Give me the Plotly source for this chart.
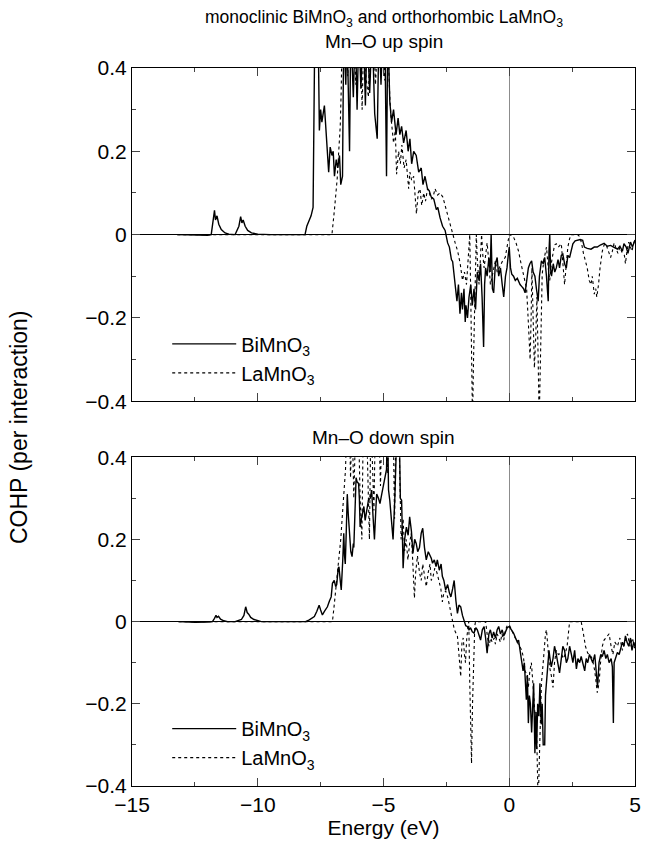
import plotly.graph_objects as go

# ---------------- data ----------------
up_bi_e = [-13.2,-12.5,-12.0,-11.85,-11.78,-11.72,-11.68,-11.62,-11.55,-11.45,-11.3,-11.15,-10.9,-10.75,-10.68,-10.63,-10.58,-10.5,-10.4,-10.25,-10.0,-9.5,-8.5,-8.12,-8.05,-7.98,-7.88,-7.8,-7.76,-7.73,-7.6,-7.55,-7.5,-7.45,-7.35,-7.3,-7.25,-7.18,-7.12,-7.05,-7.0,-6.95,-6.88,-6.82,-6.75,-6.7,-6.63,-6.58,-6.5,-6.45,-6.35,-6.3,-6.2,-6.12,-6.05,-5.98,-5.9,-5.8,-5.72,-5.65,-5.55,-5.45,-5.35,-5.25,-5.18,-5.1,-5.02,-4.95,-4.88,-4.83,-4.75,-4.68,-4.6,-4.5,-4.42,-4.35,-4.28,-4.2,-4.1,-4.02,-3.95,-3.88,-3.8,-3.7,-3.6,-3.5,-3.43,-3.35,-3.25,-3.18,-3.1,-3.0,-2.9,-2.84,-2.75,-2.65,-2.55,-2.45,-2.38,-2.3,-2.25,-2.18,-2.12,-2.08,-2.02,-1.96,-1.9,-1.86,-1.8,-1.75,-1.72,-1.66,-1.6,-1.53,-1.47,-1.4,-1.34,-1.27,-1.2,-1.14,-1.08,-1.02,-0.98,-0.94,-0.88,-0.81,-0.76,-0.72,-0.67,-0.62,-0.55,-0.48,-0.42,-0.35,-0.28,-0.22,-0.15,-0.09,-0.04,0.0,0.05,0.1,0.17,0.24,0.32,0.43,0.5,0.57,0.63,0.7,0.76,0.82,0.89,0.95,1.02,1.08,1.15,1.2,1.28,1.35,1.41,1.48,1.55,1.58,1.61,1.64,1.68,1.75,1.81,1.87,1.94,2.0,2.07,2.13,2.2,2.27,2.33,2.4,2.47,2.53,2.62,2.72,2.82,2.92,2.99,3.1,3.25,3.38,3.5,3.62,3.77,3.9,4.03,4.15,4.3,4.4,4.5,4.56,4.65,4.72,4.82,4.9,5.0]
up_bi_v = [0,-0.002,-0.002,0,0.03,0.058,0.035,0.045,0.025,0.012,0.004,0.001,0,0.02,0.043,0.028,0.035,0.02,0.01,0.004,0.001,0,0,0,0.02,0.03,0.045,0.065,0.2,0.5,0.5,0.25,0.3,0.27,0.31,0.26,0.22,0.15,0.21,0.19,0.2,0.14,0.18,0.16,0.19,0.12,0.14,0.5,0.36,0.5,0.2,0.5,0.33,0.5,0.3,0.5,0.35,0.5,0.31,0.5,0.34,0.5,0.29,0.23,0.5,0.36,0.5,0.5,0.14,0.5,0.32,0.27,0.3,0.24,0.28,0.24,0.26,0.22,0.25,0.2,0.23,0.17,0.2,0.19,0.15,0.16,0.12,0.14,0.11,0.105,0.09,0.085,0.06,0.065,0.04,0.02,0.01,-0.02,-0.03,-0.06,-0.065,-0.1,-0.13,-0.16,-0.12,-0.19,-0.14,-0.18,-0.13,-0.21,-0.17,-0.2,-0.15,-0.12,-0.17,-0.13,-0.18,-0.09,-0.11,-0.07,-0.15,-0.27,-0.12,-0.08,-0.1,-0.055,-0.09,0.0,-0.13,-0.14,-0.07,-0.055,-0.1,-0.08,-0.12,-0.15,-0.1,-0.08,-0.05,-0.03,-0.08,-0.095,-0.1,-0.11,-0.105,-0.12,-0.125,-0.13,-0.14,-0.1,-0.08,-0.07,-0.063,-0.09,-0.1,-0.13,-0.16,-0.1,-0.063,-0.07,-0.055,-0.1,-0.16,-0.04,0.0,-0.08,-0.1,-0.07,-0.09,-0.08,-0.06,-0.08,-0.05,-0.047,-0.07,-0.08,-0.05,-0.055,-0.035,-0.022,-0.015,-0.013,-0.012,-0.014,-0.03,-0.033,-0.035,-0.03,-0.03,-0.025,-0.021,-0.028,-0.026,-0.03,-0.035,-0.028,-0.04,-0.022,-0.03,-0.045,-0.018,-0.03,-0.013]

up_la_e = [-13.2,-7.05,-6.95,-6.84,-6.78,-6.72,-6.68,-6.64,-6.5,-6.42,-6.35,-6.2,-6.1,-6.0,-5.92,-5.85,-5.78,-5.7,-5.6,-5.52,-5.4,-5.32,-5.2,-5.05,-4.95,-4.85,-4.75,-4.7,-4.6,-4.53,-4.48,-4.4,-4.33,-4.27,-4.18,-4.1,-4.0,-3.95,-3.88,-3.8,-3.74,-3.69,-3.62,-3.55,-3.48,-3.4,-3.33,-3.25,-3.18,-3.1,-3.03,-2.95,-2.85,-2.75,-2.64,-2.55,-2.5,-2.4,-2.3,-2.25,-2.15,-2.05,-1.95,-1.86,-1.78,-1.7,-1.66,-1.6,-1.57,-1.53,-1.49,-1.46,-1.42,-1.38,-1.34,-1.31,-1.27,-1.2,-1.15,-1.1,-1.05,-1.0,-0.94,-0.88,-0.82,-0.75,-0.68,-0.6,-0.55,-0.48,-0.4,-0.32,-0.24,-0.16,-0.08,0.0,0.08,0.17,0.27,0.37,0.47,0.56,0.63,0.69,0.75,0.8,0.83,0.87,0.9,0.95,1.0,1.05,1.1,1.15,1.19,1.24,1.31,1.38,1.45,1.48,1.55,1.61,1.67,1.74,1.8,1.87,1.95,2.07,2.13,2.2,2.27,2.33,2.4,2.46,2.6,2.72,2.8,2.88,2.95,3.0,3.1,3.18,3.25,3.3,3.38,3.44,3.48,3.55,3.61,3.7,3.77,3.84,3.92,4.03,4.1,4.17,4.23,4.32,4.4,4.5,4.58,4.62,4.68,4.75,4.82,4.88,4.95,5.0]
up_la_v = [0,0,0.06,0.135,0.2,0.26,0.35,0.5,0.5,0.38,0.5,0.5,0.36,0.5,0.5,0.3,0.5,0.38,0.33,0.5,0.5,0.36,0.5,0.5,0.37,0.5,0.33,0.28,0.22,0.25,0.145,0.2,0.17,0.215,0.16,0.18,0.11,0.15,0.13,0.14,0.09,0.05,0.1,0.11,0.07,0.1,0.08,0.11,0.1,0.085,0.09,0.11,0.095,0.1,0.09,0.07,0.058,0.03,0.01,0.0,-0.02,-0.04,-0.07,-0.11,-0.09,-0.12,-0.08,-0.03,0.0,-0.15,-0.3,-0.45,-0.3,-0.2,-0.06,0.0,-0.06,-0.12,-0.06,0.0,-0.05,-0.08,-0.05,-0.02,-0.06,-0.12,-0.1,-0.08,-0.063,-0.09,-0.08,-0.07,-0.06,-0.055,-0.03,0.0,-0.002,-0.006,-0.02,-0.04,-0.07,-0.095,-0.11,-0.13,-0.2,-0.28,-0.3,-0.2,-0.08,-0.2,-0.32,-0.25,-0.15,-0.3,-0.45,-0.3,-0.095,-0.06,-0.03,-0.03,-0.08,-0.11,-0.07,-0.04,-0.025,-0.022,-0.03,-0.022,-0.06,-0.12,-0.07,-0.03,-0.01,0.0,0.0,0.0,-0.005,-0.022,-0.045,-0.055,-0.08,-0.11,-0.12,-0.1,-0.143,-0.13,-0.15,-0.12,-0.08,-0.04,-0.025,-0.022,-0.035,-0.055,-0.04,-0.02,-0.03,-0.045,-0.03,-0.045,-0.05,-0.07,-0.04,-0.018,-0.03,-0.04,-0.02,-0.013]

dn_bi_e = [-13.15,-12.5,-12.0,-11.8,-11.72,-11.66,-11.62,-11.56,-11.48,-11.35,-11.2,-10.9,-10.65,-10.55,-10.48,-10.42,-10.36,-10.28,-10.15,-9.95,-9.86,-8.5,-8.1,-7.95,-7.85,-7.75,-7.65,-7.56,-7.5,-7.43,-7.35,-7.23,-7.15,-7.08,-7.03,-6.96,-6.9,-6.86,-6.8,-6.77,-6.72,-6.68,-6.62,-6.58,-6.55,-6.52,-6.48,-6.44,-6.4,-6.35,-6.3,-6.25,-6.2,-6.18,-6.13,-6.09,-6.05,-5.99,-5.96,-5.93,-5.88,-5.82,-5.78,-5.73,-5.66,-5.6,-5.53,-5.47,-5.42,-5.36,-5.3,-5.27,-5.2,-5.14,-5.07,-5.01,-4.95,-4.88,-4.84,-4.8,-4.75,-4.68,-4.62,-4.55,-4.49,-4.45,-4.38,-4.33,-4.28,-4.22,-4.16,-4.09,-4.02,-3.96,-3.89,-3.83,-3.76,-3.7,-3.64,-3.57,-3.5,-3.44,-3.37,-3.3,-3.22,-3.15,-3.1,-3.05,-2.98,-2.91,-2.86,-2.78,-2.71,-2.66,-2.6,-2.53,-2.45,-2.38,-2.32,-2.25,-2.19,-2.12,-2.06,-2.0,-1.93,-1.86,-1.8,-1.73,-1.67,-1.6,-1.54,-1.47,-1.4,-1.33,-1.27,-1.2,-1.14,-1.07,-1.0,-0.94,-0.88,-0.81,-0.75,-0.68,-0.62,-0.55,-0.48,-0.42,-0.35,-0.28,-0.22,-0.15,-0.08,0.0,0.08,0.17,0.25,0.32,0.37,0.43,0.5,0.55,0.6,0.63,0.68,0.72,0.76,0.8,0.84,0.89,0.93,0.97,1.02,1.06,1.09,1.13,1.18,1.22,1.27,1.31,1.35,1.41,1.44,1.48,1.53,1.58,1.61,1.67,1.74,1.8,1.87,1.94,2.0,2.07,2.13,2.2,2.27,2.33,2.4,2.47,2.53,2.6,2.67,2.73,2.8,2.86,2.93,3.0,3.06,3.12,3.19,3.25,3.32,3.4,3.45,3.51,3.57,3.64,3.7,3.77,3.84,3.9,3.97,4.05,4.1,4.14,4.17,4.23,4.3,4.37,4.43,4.5,4.56,4.62,4.68,4.75,4.82,4.88,4.95,5.0]
dn_bi_v = [0,-0.002,-0.001,0,0.008,0.015,0.01,0.013,0.006,0.002,0,0,0.005,0.015,0.036,0.022,0.018,0.01,0.005,0.001,0,0,0,0.004,0.008,0.012,0.025,0.04,0.028,0.016,0.025,0.036,0.05,0.06,0.093,0.1,0.085,0.09,0.13,0.133,0.1,0.077,0.15,0.215,0.16,0.14,0.22,0.31,0.26,0.22,0.17,0.158,0.19,0.18,0.28,0.35,0.34,0.336,0.3,0.23,0.25,0.27,0.28,0.246,0.27,0.295,0.3,0.32,0.26,0.2,0.28,0.31,0.3,0.287,0.31,0.33,0.35,0.37,0.5,0.32,0.295,0.25,0.2,0.3,0.39,0.5,0.5,0.3,0.295,0.13,0.2,0.23,0.21,0.255,0.22,0.166,0.2,0.19,0.17,0.18,0.215,0.227,0.18,0.15,0.17,0.16,0.154,0.142,0.15,0.134,0.15,0.125,0.14,0.11,0.1,0.077,0.09,0.07,0.06,0.08,0.1,0.05,0.02,0.04,0.036,0.015,0.0,-0.01,-0.012,-0.02,-0.015,-0.025,-0.028,-0.015,-0.02,-0.035,-0.045,-0.02,-0.012,-0.04,-0.077,-0.03,-0.02,-0.04,-0.025,-0.04,-0.02,-0.012,-0.03,-0.02,-0.035,-0.025,-0.015,-0.012,-0.02,-0.028,-0.04,-0.05,-0.045,-0.07,-0.093,-0.12,-0.1,-0.15,-0.19,-0.13,-0.247,-0.18,-0.2,-0.27,-0.2,-0.15,-0.32,-0.22,-0.31,-0.2,-0.23,-0.15,-0.25,-0.2,-0.3,-0.3,-0.18,-0.15,-0.1,-0.07,-0.085,-0.11,-0.09,-0.06,-0.08,-0.1,-0.125,-0.09,-0.06,-0.07,-0.1,-0.09,-0.06,-0.08,-0.1,-0.07,-0.115,-0.09,-0.1,-0.085,-0.1,-0.12,-0.09,-0.1,-0.08,-0.09,-0.1,-0.08,-0.12,-0.16,-0.1,-0.08,-0.085,-0.07,-0.09,-0.08,-0.1,-0.09,-0.11,-0.247,-0.1,-0.09,-0.075,-0.08,-0.068,-0.05,-0.06,-0.035,-0.05,-0.06,-0.04,-0.07,-0.05,-0.06]

dn_la_e = [-13.15,-7.03,-6.96,-6.9,-6.83,-6.77,-6.7,-6.64,-6.58,-6.51,-6.45,-6.36,-6.31,-6.25,-6.18,-6.1,-6.0,-5.93,-5.86,-5.8,-5.68,-5.6,-5.56,-5.5,-5.42,-5.38,-5.32,-5.2,-5.12,-5.06,-4.95,-4.85,-4.78,-4.62,-4.56,-4.5,-4.4,-4.3,-4.22,-4.16,-4.1,-4.03,-3.96,-3.9,-3.84,-3.77,-3.72,-3.65,-3.57,-3.5,-3.44,-3.37,-3.3,-3.22,-3.15,-3.1,-3.03,-2.96,-2.88,-2.8,-2.72,-2.66,-2.6,-2.53,-2.45,-2.38,-2.3,-2.25,-2.18,-2.1,-2.06,-2.0,-1.96,-1.93,-1.88,-1.83,-1.78,-1.74,-1.69,-1.64,-1.61,-1.57,-1.53,-1.5,-1.46,-1.41,-1.37,-1.34,-1.25,-1.15,-1.05,-0.94,-0.88,-0.81,-0.74,-0.68,-0.6,-0.55,-0.48,-0.42,-0.35,-0.29,-0.22,-0.15,-0.08,0.0,0.08,0.16,0.24,0.32,0.4,0.5,0.57,0.63,0.7,0.76,0.82,0.88,0.94,1.0,1.05,1.09,1.12,1.15,1.19,1.23,1.28,1.35,1.4,1.44,1.48,1.54,1.6,1.67,1.74,1.8,1.87,1.95,2.07,2.15,2.22,2.3,2.35,2.4,2.5,2.6,2.72,2.86,2.95,3.03,3.12,3.2,3.3,3.4,3.5,3.57,3.63,3.7,3.77,3.85,3.97,4.05,4.12,4.2,4.3,4.4,4.5,4.6,4.7,4.8,4.9,5.0]
dn_la_v = [0,0,0.04,0.077,0.11,0.15,0.2,0.255,0.31,0.37,0.5,0.5,0.35,0.5,0.3,0.5,0.5,0.3,0.2,0.5,0.5,0.27,0.2,0.5,0.3,0.27,0.5,0.5,0.33,0.5,0.5,0.36,0.5,0.5,0.25,0.5,0.5,0.2,0.25,0.172,0.2,0.15,0.19,0.215,0.15,0.057,0.12,0.16,0.12,0.1,0.14,0.11,0.085,0.12,0.14,0.1,0.11,0.13,0.12,0.1,0.08,0.048,0.07,0.075,0.06,0.04,0.02,0.0,-0.02,-0.03,-0.036,-0.08,-0.12,-0.134,-0.05,-0.04,-0.08,-0.1,-0.04,-0.01,0.0,-0.15,-0.3,-0.345,-0.2,-0.05,-0.01,0.0,0.0,0.0,0.0,0.0,-0.03,-0.06,-0.04,-0.05,-0.04,-0.055,-0.03,-0.04,-0.05,-0.03,-0.045,-0.02,-0.01,-0.008,-0.02,-0.03,-0.04,-0.05,-0.06,-0.07,-0.09,-0.12,-0.13,-0.16,-0.12,-0.1,-0.15,-0.22,-0.25,-0.27,-0.35,-0.45,-0.35,-0.25,-0.15,-0.1,-0.05,-0.03,-0.02,-0.07,-0.11,-0.13,-0.16,-0.1,-0.07,-0.08,-0.077,-0.09,-0.08,-0.06,-0.03,0.0,0.0,0.0,0.0,0.0,-0.03,-0.06,-0.077,-0.08,-0.09,-0.12,-0.173,-0.15,-0.1,-0.06,-0.045,-0.04,-0.03,-0.06,-0.08,-0.05,-0.06,-0.04,-0.07,-0.05,-0.03,-0.06,-0.04,-0.07]

series_names = ["BiMnO<sub>3</sub>", "LaMnO<sub>3</sub>"]
x_ticks = [-15, -10, -5, 0, 5]
x_tick_text = ["\u221215", "\u221210", "\u22125", "0", "5"]
y_ticks = [-0.4, -0.2, 0, 0.2, 0.4]
y_tick_text = ["\u22120.4", "\u22120.2", "0", "0.2", "0.4"]

# ---------------- figure ----------------
FONT = "Liberation Sans, Arial, Helvetica, sans-serif"
TICK_SIZE = 21
fig = go.Figure()

solid = dict(color="black", width=1.4)
dotted = dict(color="black", width=1.1, dash="dot")

fig.add_trace(go.Scatter(x=up_bi_e, y=up_bi_v, mode="lines", line=solid,
                         name=series_names[0], xaxis="x", yaxis="y", legend="legend"))
fig.add_trace(go.Scatter(x=up_la_e, y=up_la_v, mode="lines", line=dotted,
                         name=series_names[1], xaxis="x", yaxis="y", legend="legend"))
fig.add_trace(go.Scatter(x=dn_bi_e, y=dn_bi_v, mode="lines", line=solid,
                         name=series_names[0], xaxis="x2", yaxis="y2", legend="legend2"))
fig.add_trace(go.Scatter(x=dn_la_e, y=dn_la_v, mode="lines", line=dotted,
                         name=series_names[1], xaxis="x2", yaxis="y2", legend="legend2"))

common_x = dict(range=[-15, 5], tickvals=x_ticks, ticktext=x_tick_text,
                ticks="inside", ticklen=8,
                showline=True, linecolor="black", linewidth=1, mirror="ticks",
                showgrid=False, zeroline=True, zerolinecolor="#8c8c8c", zerolinewidth=1.2,
                minor=dict(dtick=2.5, tick0=-15, ticks="inside", ticklen=4, showgrid=False),
                tickfont=dict(size=TICK_SIZE, color="black", family=FONT))
common_y = dict(range=[-0.4, 0.4], tickvals=y_ticks, ticktext=y_tick_text,
                ticks="inside", ticklen=8,
                showline=True, linecolor="black", linewidth=1, mirror="ticks",
                showgrid=False, zeroline=True, zerolinecolor="black", zerolinewidth=1.2,
                minor=dict(dtick=0.1, tick0=-0.4, ticks="inside", ticklen=4, showgrid=False),
                tickfont=dict(size=TICK_SIZE, color="black", family=FONT))

legend_style = dict(xanchor="left", yanchor="top", bgcolor="rgba(0,0,0,0)",
                    font=dict(size=20, family=FONT, color="black"),
                    tracegroupgap=0, itemwidth=64)

fig.update_layout(
    width=647, height=844,
    margin=dict(l=132, r=6, t=68, b=58),
    paper_bgcolor="white", plot_bgcolor="white",
    font=dict(family=FONT, color="black", size=18),
    xaxis=dict(common_x, anchor="y", showticklabels=False),
    yaxis=dict(common_y, domain=[0.536, 1.0], anchor="x"),
    xaxis2=dict(common_x, anchor="y2", showticklabels=True,
                title=dict(text="Energy (eV)", font=dict(size=21, family=FONT), standoff=2)),
    yaxis2=dict(common_y, domain=[0.0, 0.458], anchor="x2"),
    legend=dict(legend_style, x=0.07, y=0.643),
    legend2=dict(legend_style, x=0.07, y=0.107),
    showlegend=True,
)

fig.add_annotation(text="monoclinic BiMnO<sub>3</sub> and orthorhombic LaMnO<sub>3</sub>",
                   xref="paper", yref="paper", x=0.5, y=1.0, yshift=50,
                   showarrow=False, font=dict(size=17.5, family=FONT), yanchor="middle")
fig.add_annotation(text="Mn\u2013O up spin", xref="paper", yref="paper", x=0.5, y=1.0,
                   yshift=27, showarrow=False, font=dict(size=19, family=FONT), yanchor="middle")
fig.add_annotation(text="Mn\u2013O down spin", xref="paper", yref="paper", x=0.5, y=0.458,
                   yshift=20, showarrow=False, font=dict(size=19, family=FONT), yanchor="middle")
fig.add_annotation(text="COHP (per interaction)", xref="paper", yref="paper",
                   x=0, xshift=-113, y=0.5, textangle=-90, showarrow=False,
                   font=dict(size=23, family=FONT), xanchor="center", yanchor="middle")

fig.write_html("out.html")
